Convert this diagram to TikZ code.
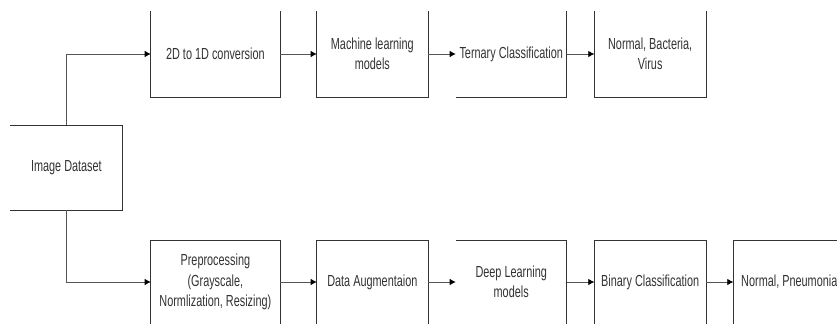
\documentclass[tikz,border=0pt]{standalone}
\usepackage{fontspec}
\setmainfont{Liberation Sans}[FakeStretch=0.68]
\usetikzlibrary{arrows.meta}
\definecolor{inkline}{HTML}{333333}
\definecolor{inktext}{HTML}{333333}
\definecolor{inkarrow}{HTML}{555555}
\tikzset{
  blockbox/.style={draw=none, inner sep=0pt, outer sep=0pt, align=center,
    text=inktext, font=\fontsize{16}{20.5}\selectfont},
  topbox/.style={blockbox, minimum height=86pt},
  lowbox/.style={blockbox, minimum height=84pt},
  side/.style={draw=inkline, line width=0.9pt},
  flow/.style={draw=inkarrow, line width=0.7pt,
    -{Latex[length=6pt,width=6.5pt,color=black]}}
}
\begin{document}
\begin{tikzpicture}[x=1pt,y=-1pt]
\clip (0,0) rectangle (837,325);
\fill[white] (0,0) rectangle (837,325);

% source block
\node[blockbox, minimum width=112.7pt, minimum height=85pt] (img) at (66.4,167.5) {Image Dataset};

% upper branch: machine learning
\node[topbox, minimum width=129.3pt] (conv) at (215.35,54) {2D to 1D conversion};
\node[topbox, minimum width=111.3pt] (ml)   at (372.35,54) {Machine learning\\models};
\node[topbox, minimum width=111pt]   (tern) at (511.2,54)  {Ternary Classification};
\node[topbox, minimum width=111.7pt] (nbv)  at (650.15,54) {Normal, Bacteria,\\Virus};

% lower branch: deep learning
\node[lowbox, minimum width=129.3pt] (prep) at (215.35,282) {Preprocessing\\(Grayscale,\\Normlization, Resizing)};
\node[lowbox, minimum width=111.3pt] (aug)  at (372.35,282) {Data Augmentaion};
\node[lowbox, minimum width=111pt]   (dl)   at (511.2,282)  {Deep Learning\\models};
\node[lowbox, minimum width=111.7pt] (bin)  at (650.15,282) {Binary Classification};
\node[lowbox, minimum width=112pt]   (np)   at (789.3,282)  {Normal, Pneumonia};

% visible box outlines
\draw[side] (img.north west) -- (img.north east) -- (img.south east) -- (img.south west);
\foreach \b in {conv,ml,nbv}
  \draw[side] (\b.north west) -- (\b.south west) -- (\b.south east) -- (\b.north east);
\draw[side] (tern.south west) -- (tern.south east) -- (tern.north east);
\foreach \b in {prep,aug,bin}
  \draw[side] (\b.south west) -- (\b.north west) -- (\b.north east) -- (\b.south east);
\draw[side] (dl.north west) -- (dl.north east) -- (dl.south east);
\draw[side] (np.south west) -- (np.north west) -- (np.north east);

% connectors
\draw[flow] (img.north) |- (conv.west);
\draw[flow] (img.south) |- (prep.west);
\draw[flow] (conv.east) -- (ml.west);
\draw[flow] (ml.east) -- (tern.west);
\draw[flow] (tern.east) -- (nbv.west);
\draw[flow] (prep.east) -- (aug.west);
\draw[flow] (aug.east) -- (dl.west);
\draw[flow] (dl.east) -- (bin.west);
\draw[flow] (bin.east) -- (np.west);
\end{tikzpicture}
\end{document}
